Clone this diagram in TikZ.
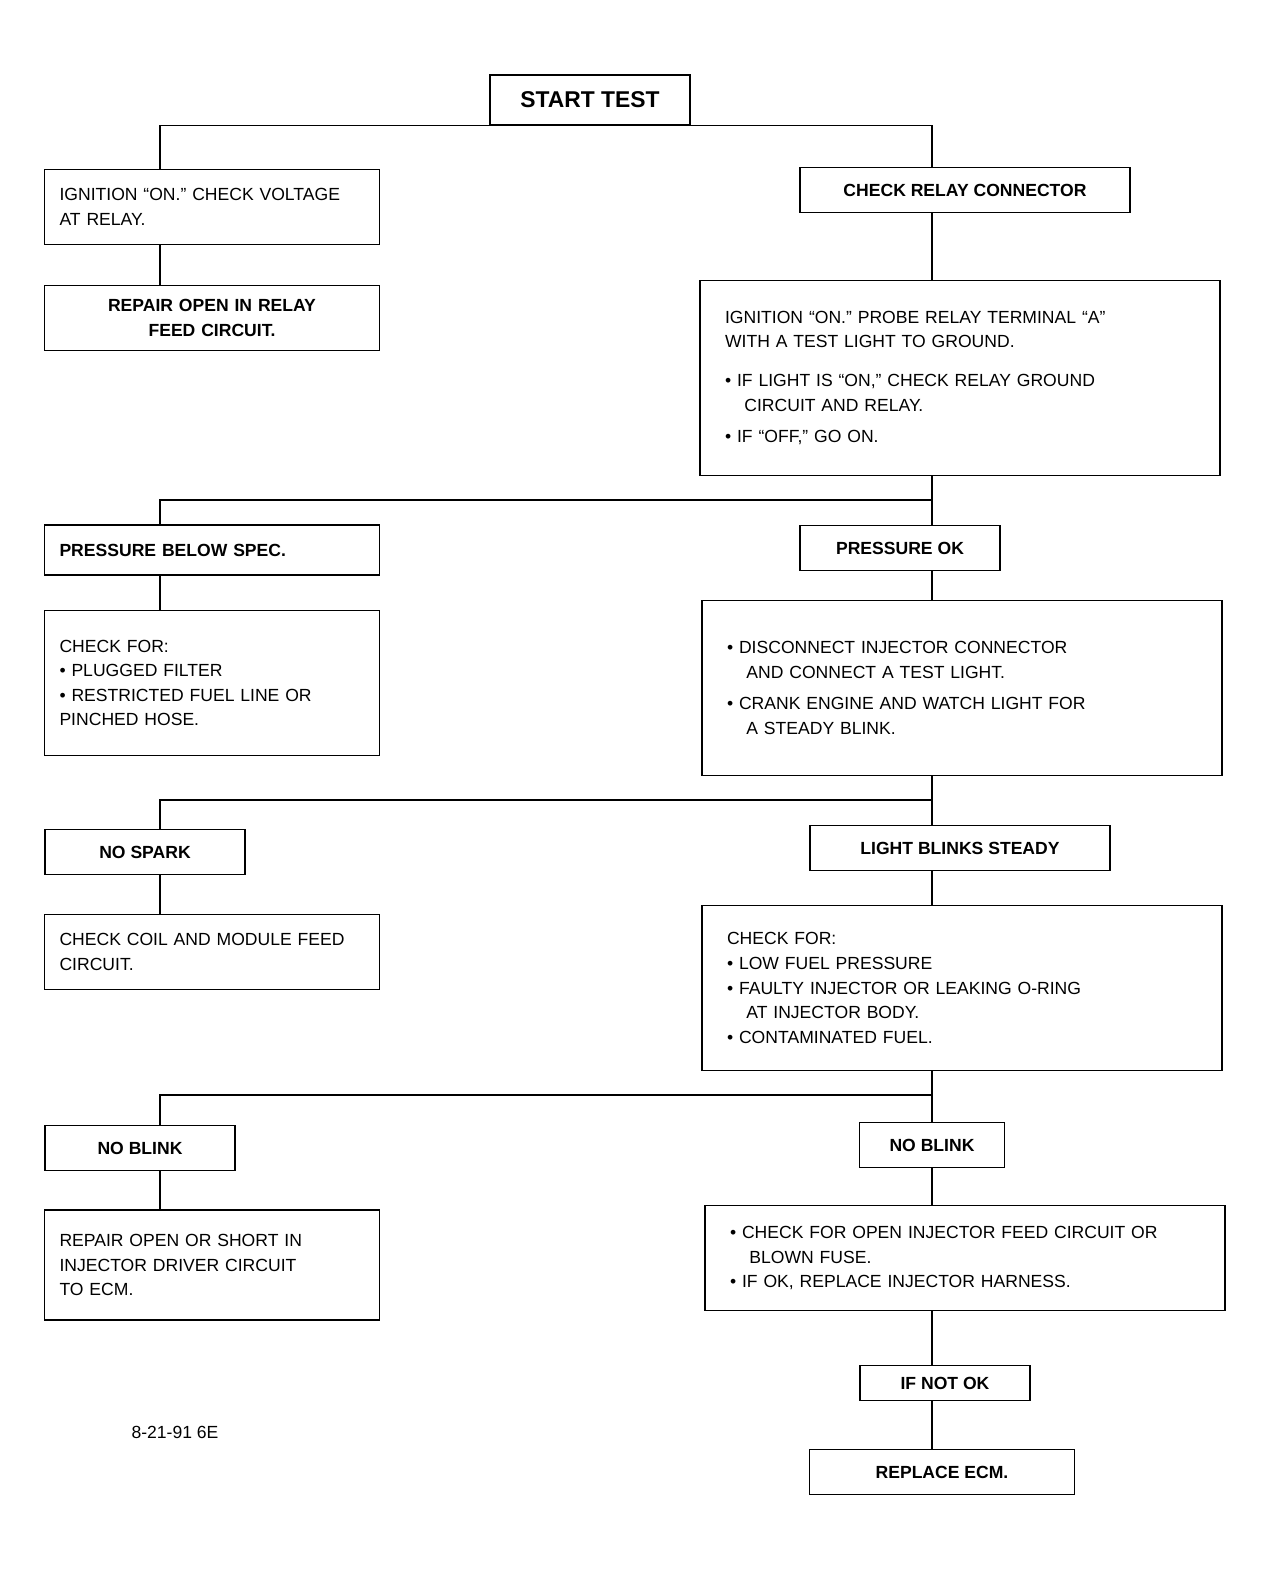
\documentclass[tikz,border=0pt]{standalone}
\usepackage{fontspec}
\setmainfont{Liberation Sans}
\newcommand\chartfont{\fontsize{10}{14}\selectfont}
\newcommand\ind{\hspace*{1.1em}}
\tikzset{
  box/.style={draw, line width=0.7pt, align=left, font=\chartfont,
    inner xsep=0.3cm, inner ysep=0.12cm},
  lbox/.style={box, text width=6.1cm, minimum height=#1},
  rbox/.style={box, text width=9.4cm, inner xsep=0.5cm, minimum height=#1},
  tag/.style={box, align=center, minimum height=0.9cm, font=\chartfont\bfseries},
  wire/.style={line width=0.7pt}
}
\begin{document}
\begin{tikzpicture}[x=0.02cm,y=-0.02cm]
  \useasboundingbox (0,0) rectangle (1271,1578);
  \coordinate (lx) at (160,0); \coordinate (rx) at (932,0);
  \node (top) at (590,100) [box, align=center, minimum width=4cm,
    minimum height=1cm, font=\fontsize{13}{16}\selectfont\bfseries] {START TEST};
  \node (l1) at (212,207) [lbox=1.5cm] {IGNITION ``ON.'' CHECK VOLTAGE\\ AT RELAY.};
  \node (l2) at (212,318) [lbox=1.3cm, align=center, font=\chartfont\bfseries]
    {REPAIR OPEN IN RELAY\\ FEED CIRCUIT.};
  \node (r1) at (965,190) [tag, minimum width=6.6cm] {CHECK RELAY CONNECTOR};
  \node (r2) at (960,378) [rbox=3.9cm] {IGNITION ``ON.'' PROBE RELAY TERMINAL ``A''\\
    WITH A TEST LIGHT TO GROUND.\\[8pt]
    \textbullet\ IF LIGHT IS ``ON,'' CHECK RELAY GROUND\\
    \ind CIRCUIT AND RELAY.\\[4pt]
    \textbullet\ IF ``OFF,'' GO ON.};
  \coordinate (ja) at (932,500);
  \node (al) at (212,550) [lbox=1cm, font=\chartfont\bfseries] {PRESSURE BELOW SPEC.};
  \node (ar) at (900,548) [tag, minimum width=4cm] {PRESSURE OK};
  \node (l3) at (212,683) [lbox=2.9cm] {CHECK FOR:\\
    \textbullet\ PLUGGED FILTER\\
    \textbullet\ RESTRICTED FUEL LINE OR\\ PINCHED HOSE.};
  \node (r3) at (962,688) [rbox=3.5cm] {\textbullet\ DISCONNECT INJECTOR CONNECTOR\\
    \ind AND CONNECT A TEST LIGHT.\\[4pt]
    \textbullet\ CRANK ENGINE AND WATCH LIGHT FOR\\
    \ind A STEADY BLINK.};
  \coordinate (jb) at (932,800);
  \node (bl) at (145,852) [tag, minimum width=4cm] {NO SPARK};
  \node (br) at (960,848) [tag, minimum width=6cm] {LIGHT BLINKS STEADY};
  \node (l4) at (212,952) [lbox=1.5cm] {CHECK COIL AND MODULE FEED\\ CIRCUIT.};
  \node (r4) at (962,988) [rbox=3.3cm] {CHECK FOR:\\
    \textbullet\ LOW FUEL PRESSURE\\
    \textbullet\ FAULTY INJECTOR OR LEAKING O-RING\\
    \ind AT INJECTOR BODY.\\
    \textbullet\ CONTAMINATED FUEL.};
  \coordinate (jc) at (932,1095);
  \node (cl) at (140,1148) [tag, minimum width=3.8cm] {NO BLINK};
  \node (cr) at (932,1145) [tag, minimum width=2.9cm] {NO BLINK};
  \node (l5) at (212,1265) [lbox=2.2cm] {REPAIR OPEN OR SHORT IN\\ INJECTOR DRIVER CIRCUIT\\ TO ECM.};
  \node (r5) at (965,1258) [rbox=2.1cm] {\textbullet\ CHECK FOR OPEN INJECTOR FEED CIRCUIT OR\\
    \ind BLOWN FUSE.\\
    \textbullet\ IF OK, REPLACE INJECTOR HARNESS.};
  \node (r6) at (945,1383) [tag, minimum width=3.4cm, minimum height=0.7cm] {IF NOT OK};
  \node (r7) at (942,1472) [tag, minimum width=5.3cm] {REPLACE ECM.};
  \node (ref) at (175,1432) [font=\chartfont] {8-21-91 6E};
  \draw[wire] (lx |- l1.north) |- (top.south) -| (rx |- r1.north);
  \draw[wire] (lx |- l1.south) -- (lx |- l2.north);
  \draw[wire] (rx |- r1.south) -- (rx |- r2.north);
  \draw[wire] (rx |- r2.south) -- (rx |- ar.north);
  \draw[wire] (lx |- al.north) |- (ja);
  \draw[wire] (lx |- al.south) -- (lx |- l3.north);
  \draw[wire] (rx |- ar.south) -- (rx |- r3.north);
  \draw[wire] (rx |- r3.south) -- (rx |- br.north);
  \draw[wire] (lx |- bl.north) |- (jb);
  \draw[wire] (lx |- bl.south) -- (lx |- l4.north);
  \draw[wire] (rx |- br.south) -- (rx |- r4.north);
  \draw[wire] (rx |- r4.south) -- (rx |- cr.north);
  \draw[wire] (lx |- cl.north) |- (jc);
  \draw[wire] (lx |- cl.south) -- (lx |- l5.north);
  \draw[wire] (rx |- cr.south) -- (rx |- r5.north);
  \draw[wire] (rx |- r5.south) -- (rx |- r6.north);
  \draw[wire] (rx |- r6.south) -- (rx |- r7.north);
\end{tikzpicture}
\end{document}
